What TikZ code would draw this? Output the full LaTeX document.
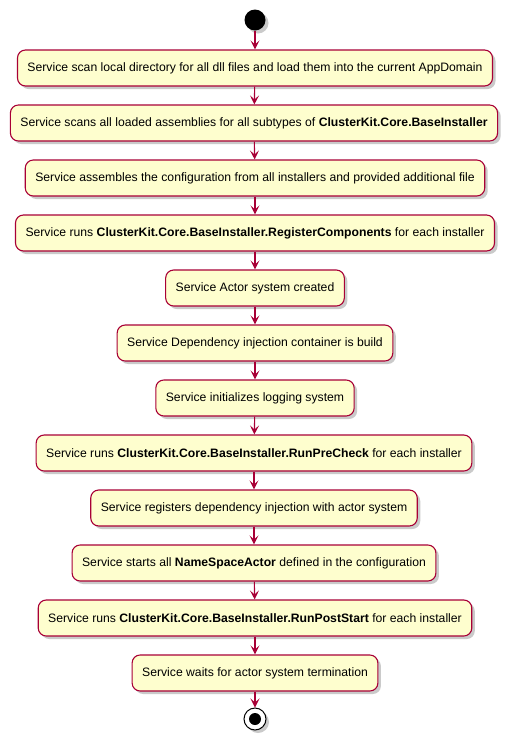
\documentclass[tikz,border=0pt]{standalone}
\usepackage{fontspec}
\setmainfont{Liberation Sans}
\usetikzlibrary{arrows.meta,shadows}
\definecolor{umlfill}{HTML}{FEFECE}
\definecolor{umlline}{HTML}{A80036}
\tikzset{
  activity/.style={rectangle,rounded corners=8pt,draw=umlline,fill=umlfill,line width=1.1pt,
    minimum height=36pt,inner xsep=10pt,font=\fontsize{12.2}{14}\selectfont,
    drop shadow={shadow xshift=3pt,shadow yshift=-3pt,fill=black!35,opacity=0.6}},
  flow/.style={draw=umlline,line width=1.1pt,-{Stealth[length=9pt,width=9pt,inset=4pt]}}
}
\begin{document}
\begin{tikzpicture}[x=1pt,y=-1pt]
    \useasboundingbox (0,0) rectangle (510,742);
    %start and stop
    \node (start) at (255,20) [circle,fill=black,minimum size=21pt,inner sep=0pt,
      drop shadow={shadow xshift=3pt,shadow yshift=-3pt,fill=black!35,opacity=0.6}]{};
    \node (stop) at (255,719) [circle,draw=black,fill=white,line width=1pt,minimum size=22pt,inner sep=0pt,
      drop shadow={shadow xshift=3pt,shadow yshift=-3pt,fill=black!35,opacity=0.6}]{};
    \fill[black] (stop.center) circle (6pt);

    %activities
    \node (s1) at (255,68) [activity]{Service scan local directory for all dll files and load them into the current AppDomain};
    \node (s2) at (254,123) [activity]{Service scans all loaded assemblies for all subtypes of \textbf{ClusterKit.Core.BaseInstaller}};
    \node (s3) at (255,178) [activity]{Service assembles the configuration from all installers and provided additional file};
    \node (s4) at (255,233) [activity]{Service runs \textbf{ClusterKit.Core.BaseInstaller.RegisterComponents} for each installer};
    \node (s5) at (255,288) [activity]{Service Actor system created};
    \node (s6) at (255,343) [activity]{Service Dependency injection container is build};
    \node (s7) at (255,398) [activity]{Service initializes logging system};
    \node (s8) at (254,453) [activity]{Service runs \textbf{ClusterKit.Core.BaseInstaller.RunPreCheck} for each installer};
    \node (s9) at (254,508) [activity]{Service registers dependency injection with actor system};
    \node (s10) at (254,563) [activity]{Service starts all \textbf{NameSpaceActor} defined in the configuration};
    \node (s11) at (255,618) [activity]{Service runs \textbf{ClusterKit.Core.BaseInstaller.RunPostStart} for each installer};
    \node (s12) at (255,673) [activity]{Service waits for actor system termination};

    \draw [flow] (start) -- (s1);
    \draw [flow] (s1) -- (s2);
    \draw [flow] (s2) -- (s3);
    \draw [flow] (s3) -- (s4);
    \draw [flow] (s4) -- (s5);
    \draw [flow] (s5) -- (s6);
    \draw [flow] (s6) -- (s7);
    \draw [flow] (s7) -- (s8);
    \draw [flow] (s8) -- (s9);
    \draw [flow] (s9) -- (s10);
    \draw [flow] (s10) -- (s11);
    \draw [flow] (s11) -- (s12);
    \draw [flow] (s12) -- (stop);
 \end{tikzpicture}
\end{document}
